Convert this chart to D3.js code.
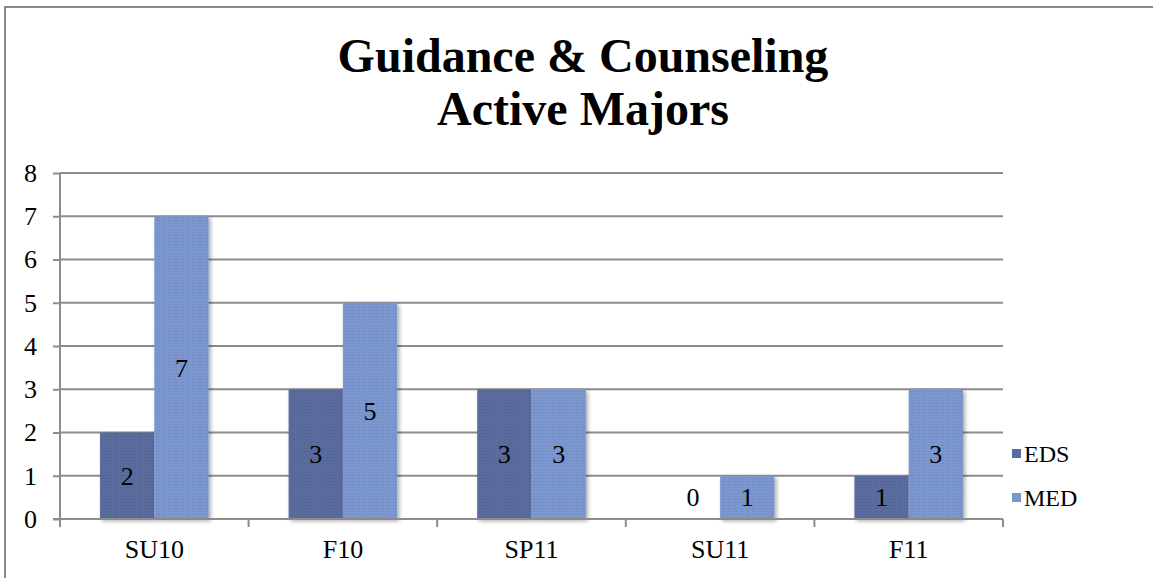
<!DOCTYPE html>
<html>
<head>
<meta charset="utf-8">
<script src="https://cdn.jsdelivr.net/npm/d3@7"></script>
<style>
  body { margin: 0; background: #fff; }
  svg { display: block; }
  svg text { font-family: "Liberation Serif", "DejaVu Serif", serif; }
</style>
</head>
<body>
<svg id="chart" width="1153" height="578"></svg>
<script>
// data
const terms = ['SU10', 'F10', 'SP11', 'SU11', 'F11']
const seriesNames = ['EDS', 'MED']
const edsValues = [2, 3, 3, 0, 1]
const medValues = [7, 5, 3, 1, 3]
const yTicks = [0, 1, 2, 3, 4, 5, 6, 7, 8]
const titleLines = ['Guidance & Counseling', 'Active Majors']

const colors = {'EDS': '#5a6c9e', 'MED': '#7b96cf'}

let rows = terms.map((t, i) => {return {'term': t, 'EDS': edsValues[i], 'MED': medValues[i]}})

let svg = d3.select('#chart')

// shadow + texture
let defs = svg.append('defs')
let shadow = defs.append('filter').attr('id', 'shadow').attr('x', '-10%').attr('y', '-10%').attr('width', '130%').attr('height', '130%')
shadow.append('feGaussianBlur').attr('in', 'SourceAlpha').attr('stdDeviation', 2)
shadow.append('feOffset').attr('dx', 2).attr('dy', 2).attr('result', 'blur')
shadow.append('feComponentTransfer').append('feFuncA').attr('type', 'linear').attr('slope', 0.35)
let merge = shadow.append('feMerge')
merge.append('feMergeNode')
merge.append('feMergeNode').attr('in', 'SourceGraphic')

seriesNames.forEach((s) => {
    let p = defs.append('pattern').attr('id', 'tex-' + s).attr('patternUnits', 'userSpaceOnUse')
        .attr('width', 6).attr('height', 3)
    p.append('rect').attr('width', 6).attr('height', 3).attr('fill', colors[s])
    p.append('rect').attr('y', 1).attr('width', 4).attr('height', 1).attr('fill', d3.color(colors[s]).darker(0.15))
})

// outer frame (runs off the page on the right and bottom)
svg.append('rect')
    .attr('x', 5).attr('y', 7).attr('width', 1200).attr('height', 620)
    .attr('fill', 'none').attr('stroke', '#8a8a8a').attr('stroke-width', 2)

// title
svg.append('text')
    .attr('x', 583).attr('y', 72)
    .attr('text-anchor', 'middle')
    .style('font-size', '48px').style('font-weight', 'bold')
    .selectAll('tspan').data(titleLines).join('tspan')
    .attr('x', 583).attr('dy', (d, i) => i === 0 ? 0 : 53)
    .text((d) => d)

// scales
let plot = {left: 60, right: 1003, top: 173, bottom: 519}
let x = d3.scaleBand(terms, [plot.left, plot.right])
let xInner = d3.scaleBand(seriesNames, [40, x.bandwidth() - 40])
let y = d3.scaleLinear([0, 8], [plot.bottom, plot.top])

// gridlines
svg.append('g').selectAll('line').data(yTicks.filter((d) => d > 0)).join('line')
    .attr('x1', plot.left).attr('x2', plot.right)
    .attr('y1', (d) => y(d)).attr('y2', (d) => y(d))
    .attr('stroke', '#8c8c8c').attr('stroke-width', 2)

// bars
let groups = svg.append('g').selectAll('g').data(rows).join('g')
    .attr('transform', (d) => 'translate(' + x(d.term) + ',0)')

groups.selectAll('rect').data((d) => seriesNames.map((s) => {return {'series': s, 'value': d[s]}})).join('rect')
    .attr('x', (d) => xInner(d.series))
    .attr('width', xInner.bandwidth())
    .attr('y', (d) => y(d.value))
    .attr('height', (d) => y(0) - y(d.value))
    .attr('fill', (d) => 'url(#tex-' + d.series + ')')
    .attr('filter', (d) => d.value > 0 ? 'url(#shadow)' : null)

groups.selectAll('text').data((d) => seriesNames.map((s) => {return {'series': s, 'value': d[s]}})).join('text')
    .attr('x', (d) => xInner(d.series) + xInner.bandwidth() / 2)
    .attr('y', (d) => Math.min((y(d.value) + y(0)) / 2, y(0) - 22))
    .attr('dy', '0.35em')
    .attr('text-anchor', 'middle')
    .style('font-size', '26px')
    .attr('fill', '#000')
    .text((d) => d.value)

// y axis
let yAxis = svg.append('g')
    .attr('transform', 'translate(' + plot.left + ',0)')
    .call(d3.axisLeft(y).tickValues(yTicks).tickFormat(d3.format('d')).tickSizeInner(7).tickSizeOuter(0).tickPadding(16))
yAxis.selectAll('line, path').attr('stroke', '#8c8c8c').attr('stroke-width', 2)
yAxis.selectAll('text').style('font-size', '26px').attr('fill', '#000')
yAxis.select('.domain').attr('d', 'M0,' + plot.top + 'V' + (plot.bottom + 7))

// x axis
let xAxis = svg.append('g')
    .attr('transform', 'translate(0,' + plot.bottom + ')')
    .call(d3.axisBottom(x).tickSize(0).tickPadding(21))
xAxis.select('.domain').attr('stroke', '#8c8c8c').attr('stroke-width', 2)
    .attr('d', 'M' + (plot.left - 7) + ',0H' + plot.right)
xAxis.selectAll('text').style('font-size', '26px').attr('fill', '#000')

let bounds = terms.map((t) => x(t)).concat([plot.right])
xAxis.append('g').selectAll('line').data(bounds).join('line')
    .attr('x1', (d) => d).attr('x2', (d) => d)
    .attr('y1', 0).attr('y2', 8)
    .attr('stroke', '#8c8c8c').attr('stroke-width', 2)

// legend
let legend = svg.append('g').attr('transform', 'translate(1012,449)')
let items = legend.selectAll('g').data(seriesNames).join('g')
    .attr('transform', (d, i) => 'translate(0,' + i * 44 + ')')
items.append('rect').attr('width', 9).attr('height', 9).attr('fill', (d) => colors[d])
items.append('text').attr('x', 12).attr('y', 5).attr('dy', '0.35em')
    .style('font-size', '24px').text((d) => d)
</script>
</body>
</html>
